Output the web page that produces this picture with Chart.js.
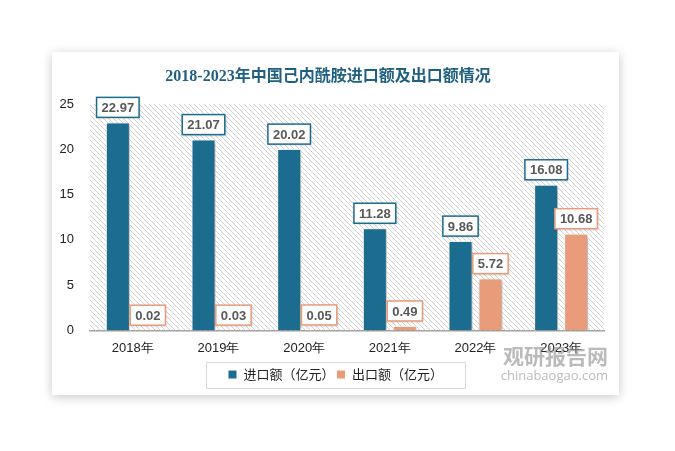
<!DOCTYPE html>
<html>
<head>
<meta charset="utf-8">
<script src="https://cdn.jsdelivr.net/npm/chart.js@4.4.0/dist/chart.umd.min.js"></script>
<style>
  html, body { margin: 0; padding: 0; background: #fff; }
  #card {
    position: absolute; left: 52px; top: 52px;
    width: 567px; height: 343px; background: #fff;
    box-shadow: 0 2px 10px rgba(0,0,0,0.22);
  }
</style>
</head>
<body>
<div id="card"><canvas id="myChart" width="567" height="343"></canvas></div>
<script>
const titleText = '2018-2023年中国己内酰胺进口额及出口额情况';
const categories = ['2018年', '2019年', '2020年', '2021年', '2022年', '2023年'];
const importValues = [22.97, 21.07, 20.02, 11.28, 9.86, 16.08];
const exportValues = [0.02, 0.03, 0.05, 0.49, 5.72, 10.68];
const seriesNames = ['进口额（亿元）', '出口额（亿元）'];
const yTicks = [0, 5, 10, 15, 20, 25];

const blue = '#1c6c8f';
const orange = '#e89c7a';
const numFont = "'Liberation Sans', Arial, sans-serif";

// diagonal hatch for the plot area
function makeHatch() {
	var c = document.createElement('canvas');
	c.width = 5; c.height = 5;
	var g = c.getContext('2d');
	g.fillStyle = '#d2d2d2';
	for (var i = 0; i < 5; i++) g.fillRect(i, i, 1, 1);
	return g.createPattern(c, 'repeat');
}

const hatchPlugin = {
	id: 'hatch',
	beforeDatasetsDraw(chart) {
		const a = chart.chartArea, ctx = chart.ctx;
		ctx.save();
		ctx.fillStyle = makeHatch();
		ctx.fillRect(a.left, a.top, a.right - a.left, a.bottom - a.top);
		ctx.restore();
	}
};

const shadowPlugin = {
	id: 'barShadow',
	beforeDatasetDraw(chart) {
		const ctx = chart.ctx;
		ctx.save();
		ctx.shadowColor = 'rgba(0,0,0,0.3)';
		ctx.shadowBlur = 4;
		ctx.shadowOffsetX = 2;
		ctx.shadowOffsetY = 1;
	},
	afterDatasetDraw(chart) {
		chart.ctx.restore();
	}
};

const labelPlugin = {
	id: 'boxLabels',
	afterDatasetsDraw(chart) {
		const ctx = chart.ctx;
		ctx.save();
		ctx.font = 'bold 13px ' + numFont;
		ctx.textAlign = 'center';
		ctx.textBaseline = 'middle';
		chart.data.datasets.forEach((ds, di) => {
			chart.getDatasetMeta(di).data.forEach((bar, i) => {
				const txt = ds.data[i].toFixed(2);
				const w = ctx.measureText(txt).width + 10;
				const h = 20;
				const x = bar.x - w / 2;
				const y = bar.y - 5 - h;
				ctx.save();
				ctx.shadowColor = 'rgba(0,0,0,0.25)';
				ctx.shadowBlur = 3;
				ctx.shadowOffsetX = 1;
				ctx.shadowOffsetY = 1;
				ctx.fillStyle = '#fff';
				ctx.fillRect(x, y, w, h);
				ctx.restore();
				ctx.strokeStyle = ds.backgroundColor;
				ctx.lineWidth = 1.5;
				ctx.strokeRect(x, y, w, h);
				ctx.fillStyle = '#595959';
				ctx.fillText(txt, bar.x, y + h / 2 + 1);
			});
		});
		ctx.restore();
	}
};

const framePlugin = {
	id: 'frame',
	afterDraw(chart) {
		const ctx = chart.ctx;
		ctx.save();
		// title
		ctx.font = "bold 16px 'Liberation Serif', 'Noto Sans CJK SC', serif";
		ctx.fillStyle = '#1f5f80';
		ctx.textAlign = 'center';
		ctx.textBaseline = 'middle';
		ctx.fillText(titleText, 276, 25);
		// legend border
		const boxes = chart.legend.legendHitBoxes;
		if (boxes.length) {
			const l = Math.min(...boxes.map(b => b.left));
			const r = Math.max(...boxes.map(b => b.left + b.width));
			const cy = boxes[0].top + boxes[0].height / 2;
			ctx.strokeStyle = '#d9d9d9';
			ctx.lineWidth = 1;
			ctx.strokeRect(Math.round(l - 22) + 0.5, Math.round(cy - 13) + 0.5, Math.round(r - l + 44), 26);
		}
		// watermark
		ctx.fillStyle = 'rgba(140,140,140,0.6)';
		ctx.textAlign = 'right';
		ctx.font = "bold 21px 'Noto Sans CJK SC', sans-serif";
		ctx.fillText('观研报告网', 556, 304);
		ctx.font = "13px 'Open Sans', sans-serif";
		ctx.fillText('chinabaogao.com', 556, 324);
		ctx.restore();
	}
};

var ctx = document.getElementById('myChart').getContext('2d');
var chart = new Chart(ctx, {
	type: 'bar',
	data: {
		labels: categories,
		datasets: [{
			label: seriesNames[0],
			data: importValues,
			backgroundColor: blue,
			borderColor: '#fff',
			borderWidth: 1,
			barPercentage: 0.8,
			categoryPercentage: 0.7
		}, {
			label: seriesNames[1],
			data: exportValues,
			backgroundColor: orange,
			borderColor: '#fff',
			borderWidth: 1,
			barPercentage: 0.8,
			categoryPercentage: 0.7
		}]
	},
	options: {
		responsive: false,
		animation: false,
		layout: { padding: { top: 52, right: 0, left: 0, bottom: 4 } },
		plugins: {
			title: { display: false },
			tooltip: { enabled: false },
			legend: {
				position: 'bottom',
				labels: {
					boxWidth: 9, boxHeight: 9, padding: 2,
					color: '#222',
					font: { size: 13, family: "'Noto Sans CJK SC', sans-serif" }
				}
			}
		},
		scales: {
			x: {
				grid: { display: false, drawTicks: false },
				border: { color: '#a0a0a0', width: 1.5 },
				ticks: { color: '#222', padding: 10, font: { size: 13, family: numFont } }
			},
			y: {
				min: 0, max: 25,
				afterFit: s => { s.width = 38; },
				afterBuildTicks: s => { s.ticks = yTicks.map(v => ({ value: v })); },
				grid: { display: false, drawTicks: false },
				border: { display: false },
				ticks: { color: '#222', padding: 16, font: { size: 13, family: numFont } }
			},
			// empty spacer on the right so the legend stays centred on the card
			yRight: {
				position: 'right',
				min: 0, max: 25,
				afterFit: s => { s.width = 15; },
				grid: { display: false, drawTicks: false },
				border: { display: false },
				ticks: { display: false }
			}
		}
	},
	plugins: [hatchPlugin, shadowPlugin, labelPlugin, framePlugin]
});
</script>
</body>
</html>
